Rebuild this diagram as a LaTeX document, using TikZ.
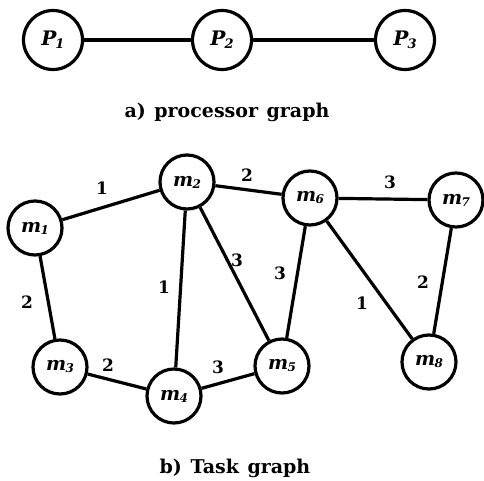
\documentclass[tikz,border=0pt]{standalone}
\usepackage{fontspec}
\setmainfont{DejaVu Serif}
\begin{document}
\begin{tikzpicture}[x=1pt,y=-1pt,
  proc/.style={circle,draw,line width=3.2pt,minimum size=59pt,inner sep=0pt,
    font=\fontsize{20}{22}\selectfont\bfseries\itshape},
  task/.style={circle,draw,line width=3.2pt,minimum size=54pt,inner sep=0pt,
    font=\fontsize{19}{21}\selectfont\bfseries\itshape},
  link/.style={line width=3.2pt},
  wt/.style={font=\fontsize{17}{19}\selectfont\bfseries},
  captext/.style={font=\fontsize{19}{21}\selectfont\bfseries}]
\useasboundingbox (0,0) rectangle (484,481);
% processor graph
\newcommand{\plab}[1]{P\kern-1pt\raisebox{-3pt}{\fontsize{13}{14}\selectfont #1}}
\node[proc] (p1) at (53,40) {\plab{1}};
\node[proc] (p2) at (222,40) {\plab{2}};
\node[proc] (p3) at (405,40) {\plab{3}};
\draw[link] (p1) -- (p2);
\draw[link] (p2) -- (p3);
\node[captext] (capa) at (227,112) {a)\hspace{0.45em}processor\hspace{0.45em}graph};
% task graph
\newcommand{\tlab}[1]{m\kern-0.5pt\raisebox{-2pt}{\fontsize{12}{13}\selectfont #1}}
\node[task] (m1) at (35,228) {\tlab{1}};
\node[task] (m2) at (187,182) {\tlab{2}};
\node[task] (m6) at (310,198) {\tlab{6}};
\node[task] (m7) at (456,200) {\tlab{7}};
\node[task] (m3) at (60,367) {\tlab{3}};
\node[task] (m4) at (174,396) {\tlab{4}};
\node[task] (m5) at (282,366) {\tlab{5}};
\node[task] (m8) at (429,362) {\tlab{8}};
\draw[link] (m1) -- (m2);
\draw[link] (m2) -- (m6);
\draw[link] (m6) -- (m7);
\draw[link] (m1) -- (m3);
\draw[link] (m2) -- (m4);
\draw[link] (m2) -- (m5);
\draw[link] (m6) -- (m5);
\draw[link] (m6) -- (m8);
\draw[link] (m7) -- (m8);
\draw[link] (m3) -- (m4);
\draw[link] (m4) -- (m5);
\node[wt] (w12) at (102,188) {1};
\node[wt] (w26) at (247,175) {2};
\node[wt] (w67) at (390,182) {3};
\node[wt] (w13) at (27,302) {2};
\node[wt] (w24) at (164,287) {1};
\node[wt] (w25) at (237,260) {3};
\node[wt] (w65) at (280,273) {3};
\node[wt] (w68) at (362,303) {1};
\node[wt] (w78) at (423,282) {2};
\node[wt] (w34) at (108,365) {2};
\node[wt] (w45) at (218,367) {3};
\node[captext] (capb) at (235,468) {b)\hspace{0.45em}Task\hspace{0.45em}graph};
\end{tikzpicture}
\end{document}
